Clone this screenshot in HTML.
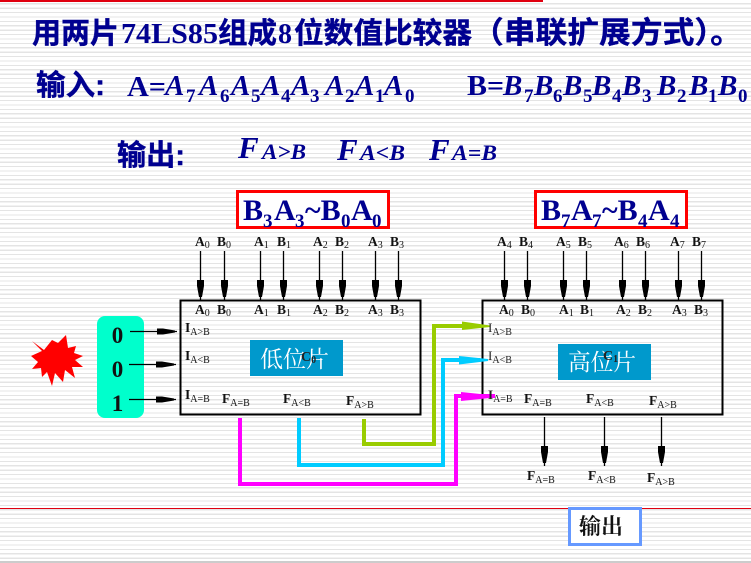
<!DOCTYPE html>
<html><head><meta charset="utf-8">
<style>
html,body{margin:0;padding:0;width:751px;height:563px;overflow:hidden;background:#fff}
svg{display:block;position:absolute;left:0;top:0}
#bg{position:absolute;left:0;top:0;width:751px;height:563px;background:repeating-linear-gradient(180deg,#fff 0,#fff 3.2px,#e4e4e4 3.2px,#e4e4e4 4.4px)}
text{font-family:"Liberation Serif","Noto Serif CJK SC",serif}
.t{fill:#000090;font-weight:bold}
.h{font-family:"Liberation Sans","Noto Sans CJK SC",sans-serif;fill:#000090;font-weight:bold;stroke:#000090;stroke-width:.4}
.i{font-style:italic}
.l{font-size:13.500px;font-weight:bold;fill:#111}
.s{font-size:10px;font-weight:normal}
.d{font-size:19px;font-weight:bold;fill:#000090}
</style></head><body>
<div id="bg"></div>
<svg width="751" height="563" viewBox="0 0 751 563" xmlns="http://www.w3.org/2000/svg">
<defs>
<g id="ad"><line x1="0" y1="0" x2="0" y2="49" stroke="#000" stroke-width="1.3"/><path d="M-3.500 29H3.500V35L1.500 46H-1.500L-3.500 35Z" fill="#000"/></g>
<g id="ar"><line x1="0" y1="0" x2="47" y2="0" stroke="#000" stroke-width="1.3"/><path d="M27 -3V3H33L45 1V-1L33 -3Z" fill="#000"/></g>
</defs>
<rect x="0" y="0" width="543" height="2" fill="#e00010"/>
<rect x="0" y="508" width="751" height="1" fill="#e00010"/>

<text x="32" y="43" class="h" font-size="29" textLength="87" lengthAdjust="spacingAndGlyphs">用两片</text>
<text x="121" y="43" class="t" font-size="28" textLength="97" lengthAdjust="spacingAndGlyphs">74LS85</text>
<text x="218" y="43" class="h" font-size="29" textLength="59" lengthAdjust="spacingAndGlyphs">组成</text>
<text x="278" y="43" class="t" font-size="28">8</text>
<text x="294" y="43" class="h" font-size="29" textLength="178" lengthAdjust="spacingAndGlyphs">位数值比较器</text>
<text x="472" y="43" class="h" font-size="30" textLength="270" lengthAdjust="spacingAndGlyphs">（串联扩展方式）。</text>

<text x="36" y="95" class="h" font-size="29" textLength="69" lengthAdjust="spacingAndGlyphs">输入:</text>
<text x="127" y="96" class="t" font-size="29" textLength="39" lengthAdjust="spacingAndGlyphs">A=</text>
<g font-size="29">
<text x="165" y="95" class="t i">A</text><text x="186" y="102" class="d">7</text>
<text x="199" y="95" class="t i">A</text><text x="220" y="102" class="d">6</text>
<text x="231" y="95" class="t i">A</text><text x="251" y="102" class="d">5</text>
<text x="261" y="95" class="t i">A</text><text x="281" y="102" class="d">4</text>
<text x="291" y="95" class="t i">A</text><text x="310" y="102" class="d">3</text>
<text x="325" y="95" class="t i">A</text><text x="345" y="102" class="d">2</text>
<text x="355" y="95" class="t i">A</text><text x="375" y="102" class="d">1</text>
<text x="384" y="95" class="t i">A</text><text x="405" y="102" class="d">0</text>
<text x="467" y="95" class="t" textLength="37" lengthAdjust="spacingAndGlyphs">B=</text>
<text x="503" y="95" class="t i">B</text><text x="524" y="102" class="d">7</text>
<text x="534" y="95" class="t i">B</text><text x="553" y="102" class="d">6</text>
<text x="563" y="95" class="t i">B</text><text x="583" y="102" class="d">5</text>
<text x="592" y="95" class="t i">B</text><text x="612" y="102" class="d">4</text>
<text x="622" y="95" class="t i">B</text><text x="642" y="102" class="d">3</text>
<text x="657" y="95" class="t i">B</text><text x="677" y="102" class="d">2</text>
<text x="689" y="95" class="t i">B</text><text x="708" y="102" class="d">1</text>
<text x="718" y="95" class="t i">B</text><text x="738" y="102" class="d">0</text>
</g>

<text x="117" y="165" class="h" font-size="29" textLength="68" lengthAdjust="spacingAndGlyphs">输出:</text>
<text x="238" y="158" class="t i" font-size="31">F</text>
<text x="262" y="159" class="t i" font-size="22" textLength="44" lengthAdjust="spacingAndGlyphs">A&gt;B</text>
<text x="337" y="160" class="t i" font-size="31">F</text>
<text x="360" y="160" class="t i" font-size="22" textLength="45" lengthAdjust="spacingAndGlyphs">A&lt;B</text>
<text x="429" y="160" class="t i" font-size="31">F</text>
<text x="452" y="160" class="t i" font-size="22" textLength="45" lengthAdjust="spacingAndGlyphs">A=B</text>

<rect x="237.500" y="191.500" width="151" height="36" fill="#fff" stroke="#f00" stroke-width="3"/>
<text x="243" y="220" class="t" font-size="30">B</text><text x="263" y="227" class="d">3</text><text x="274" y="220" class="t" font-size="30">A</text><text x="295" y="227" class="d">3</text><text x="305" y="220" class="t" font-size="30">~B</text><text x="341" y="227" class="d">0</text><text x="351" y="220" class="t" font-size="30">A</text><text x="372" y="227" class="d">0</text>
<rect x="535.500" y="191.500" width="151" height="36" fill="#fff" stroke="#f00" stroke-width="3"/>
<text x="541" y="220" class="t" font-size="30">B</text><text x="561" y="227" class="d">7</text><text x="571" y="220" class="t" font-size="30">A</text><text x="592" y="227" class="d">7</text><text x="602" y="220" class="t" font-size="30">~B</text><text x="638" y="227" class="d">4</text><text x="648" y="220" class="t" font-size="30">A</text><text x="670" y="227" class="d">4</text>

<!-- blocks -->
<rect x="180.500" y="300.500" width="240" height="114" fill="none" stroke="#000" stroke-width="2"/>
<rect x="482.500" y="300.500" width="240" height="114" fill="none" stroke="#000" stroke-width="2"/>

<!-- top input arrows -->
<use href="#ad" x="200.500" y="251"/><use href="#ad" x="224.500" y="251"/><use href="#ad" x="260.500" y="251"/><use href="#ad" x="283.500" y="251"/><use href="#ad" x="319.500" y="251"/><use href="#ad" x="342.500" y="251"/><use href="#ad" x="375.500" y="251"/><use href="#ad" x="398.500" y="251"/>
<use href="#ad" x="504.500" y="251"/><use href="#ad" x="527.500" y="251"/><use href="#ad" x="563.500" y="251"/><use href="#ad" x="586.500" y="251"/><use href="#ad" x="622.500" y="251"/><use href="#ad" x="645.500" y="251"/><use href="#ad" x="678.500" y="251"/><use href="#ad" x="701.500" y="251"/>
<!-- bottom arrows -->
<use href="#ad" x="544.500" y="417"/><use href="#ad" x="604.500" y="417"/><use href="#ad" x="661.500" y="417"/>

<!-- labels: top -->
<g class="l">
<text x="195" y="246">A<tspan class="s" dy="2">0</tspan></text><text x="217" y="246">B<tspan class="s" dy="2">0</tspan></text>
<text x="254" y="246">A<tspan class="s" dy="2">1</tspan></text><text x="277" y="246">B<tspan class="s" dy="2">1</tspan></text>
<text x="313" y="246">A<tspan class="s" dy="2">2</tspan></text><text x="335" y="246">B<tspan class="s" dy="2">2</tspan></text>
<text x="368" y="246">A<tspan class="s" dy="2">3</tspan></text><text x="390" y="246">B<tspan class="s" dy="2">3</tspan></text>
<text x="497" y="246">A<tspan class="s" dy="2">4</tspan></text><text x="519" y="246">B<tspan class="s" dy="2">4</tspan></text>
<text x="556" y="246">A<tspan class="s" dy="2">5</tspan></text><text x="578" y="246">B<tspan class="s" dy="2">5</tspan></text>
<text x="614" y="246">A<tspan class="s" dy="2">6</tspan></text><text x="636" y="246">B<tspan class="s" dy="2">6</tspan></text>
<text x="670" y="246">A<tspan class="s" dy="2">7</tspan></text><text x="692" y="246">B<tspan class="s" dy="2">7</tspan></text>

<text x="195" y="314">A<tspan class="s" dy="2">0</tspan></text><text x="217" y="314">B<tspan class="s" dy="2">0</tspan></text>
<text x="254" y="314">A<tspan class="s" dy="2">1</tspan></text><text x="277" y="314">B<tspan class="s" dy="2">1</tspan></text>
<text x="313" y="314">A<tspan class="s" dy="2">2</tspan></text><text x="335" y="314">B<tspan class="s" dy="2">2</tspan></text>
<text x="368" y="314">A<tspan class="s" dy="2">3</tspan></text><text x="390" y="314">B<tspan class="s" dy="2">3</tspan></text>
<text x="499" y="314">A<tspan class="s" dy="2">0</tspan></text><text x="521" y="314">B<tspan class="s" dy="2">0</tspan></text>
<text x="559" y="314">A<tspan class="s" dy="2">1</tspan></text><text x="580" y="314">B<tspan class="s" dy="2">1</tspan></text>
<text x="616" y="314">A<tspan class="s" dy="2">2</tspan></text><text x="638" y="314">B<tspan class="s" dy="2">2</tspan></text>
<text x="672" y="314">A<tspan class="s" dy="2">3</tspan></text><text x="694" y="314">B<tspan class="s" dy="2">3</tspan></text>

<text x="185" y="332">I<tspan class="s" dy="3">A&gt;B</tspan></text>
<text x="185" y="360">I<tspan class="s" dy="3">A&lt;B</tspan></text>
<text x="185" y="399">I<tspan class="s" dy="3">A=B</tspan></text>
<text x="222" y="403">F<tspan class="s" dy="3">A=B</tspan></text>
<text x="283" y="403">F<tspan class="s" dy="3">A&lt;B</tspan></text>
<text x="346" y="405">F<tspan class="s" dy="3">A&gt;B</tspan></text>

<text x="524" y="403">F<tspan class="s" dy="3">A=B</tspan></text>
<text x="586" y="403">F<tspan class="s" dy="3">A&lt;B</tspan></text>
<text x="649" y="405">F<tspan class="s" dy="3">A&gt;B</tspan></text>
<text x="527" y="480">F<tspan class="s" dy="3">A=B</tspan></text>
<text x="588" y="480">F<tspan class="s" dy="3">A&lt;B</tspan></text>
<text x="647" y="482">F<tspan class="s" dy="3">A&gt;B</tspan></text>
</g>

<!-- left source -->
<rect x="97" y="316" width="47" height="102" rx="8" fill="#00ffcc"/>
<text x="117.500" y="343" font-size="23" font-weight="bold" text-anchor="middle" fill="#111">0</text>
<text x="117.500" y="377" font-size="23" font-weight="bold" text-anchor="middle" fill="#111">0</text>
<text x="117.500" y="411" font-size="23" font-weight="bold" text-anchor="middle" fill="#111">1</text>
<use href="#ar" x="130" y="331.500"/><use href="#ar" x="129" y="364.500"/><use href="#ar" x="129" y="399.500"/>

<polygon points="32,341 44,350 52,340 58,343 66,335 68,348 76,346 74,353 83,356 75,360 83,367 72,367 75,378 65,370 63,382 55,373 52,386 47,372 42,377 41,368 32,369 38,362 31,356 42,351" fill="#f00"/>

<!-- inner labels -->
<rect x="250" y="340" width="93" height="36" fill="#0099cc"/>
<text x="260" y="367" font-size="23" fill="#fff" textLength="69" lengthAdjust="spacingAndGlyphs">低位片</text>
<text x="301" y="361" font-size="14" font-weight="bold" fill="#222">C<tspan font-size="10" dy="2">0</tspan></text>
<rect x="558" y="344" width="93" height="36" fill="#0099cc"/>
<text x="568" y="370" font-size="23" fill="#fff" textLength="68" lengthAdjust="spacingAndGlyphs">高位片</text>
<text x="603" y="360" font-size="14" font-weight="bold" fill="#222">C<tspan font-size="10" dy="2">1</tspan></text>

<!-- colored wires -->
<path d="M364 419V444H434V326H480" fill="none" stroke="#99cc00" stroke-width="4"/>
<path d="M462 321.500L490 325.500V327L462 330Z" fill="#99cc00"/>
<path d="M299 418V465H443V360H480" fill="none" stroke="#00ccff" stroke-width="4"/>
<path d="M459 356L488 359V361L459 364.500Z" fill="#00ccff"/>
<path d="M240 418V484H456V396H495" fill="none" stroke="#ff00ff" stroke-width="4"/>
<path d="M461 392L490 395V398L461 401Z" fill="#ff00ff"/>

<text x="488" y="332" font-size="13" fill="#222">I<tspan font-size="10" dy="3">A&gt;B</tspan></text>
<text x="488" y="360" font-size="13" fill="#222">I<tspan font-size="10" dy="3">A&lt;B</tspan></text>
<text x="488" y="399" font-size="13" font-weight="bold" fill="#222">I<tspan font-size="10" font-weight="normal" dy="3">A=B</tspan></text>

<!-- output box -->
<rect x="569.500" y="508.500" width="71" height="36" fill="#fff" stroke="#6699ff" stroke-width="3"/>
<text x="579" y="534" font-size="22" fill="#111" font-weight="bold" textLength="44" lengthAdjust="spacingAndGlyphs">输出</text>
<rect x="0" y="561" width="751" height="2" fill="#ccc"/>
</svg>
</body></html>
